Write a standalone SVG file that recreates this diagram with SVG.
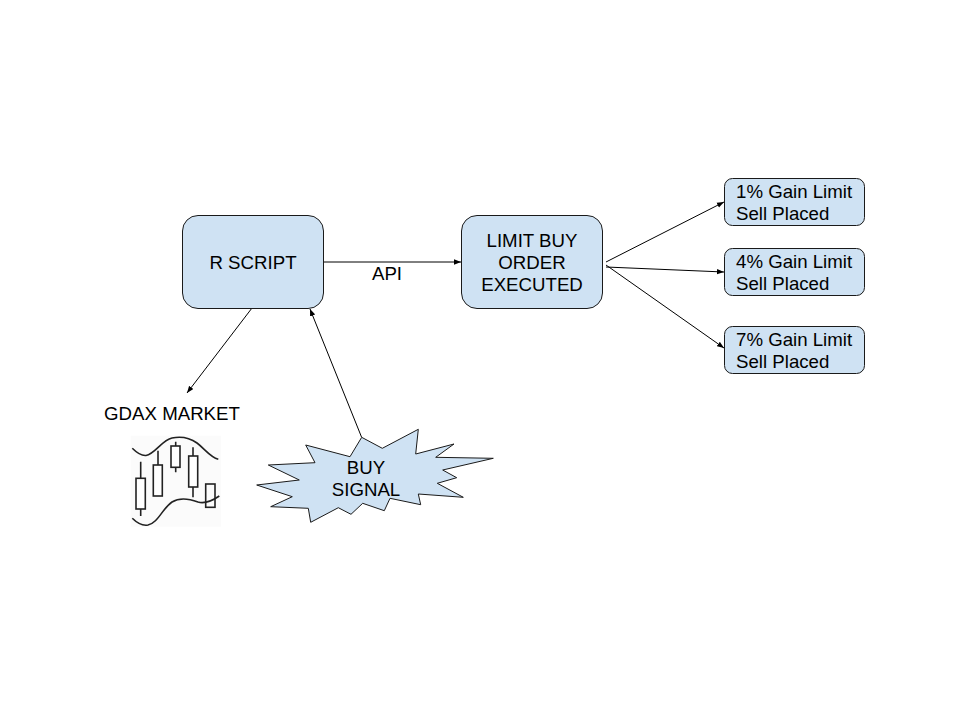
<svg xmlns="http://www.w3.org/2000/svg" width="960" height="720" viewBox="0 0 960 720">
<style>
.b{fill:#cfe2f3;stroke:#1a1a1a;stroke-width:1}
text{font-family:"Liberation Sans",Arial,sans-serif;font-size:18.67px;fill:#000}
.m{text-anchor:middle}
.c{stroke:#000;stroke-width:1;fill:none;marker-end:url(#a)}
.k{fill:none;stroke:#222;stroke-width:1.6}
.r{fill:#fff;stroke:#222;stroke-width:1.6}
</style>
<defs><marker id="a" markerUnits="userSpaceOnUse" markerWidth="8" markerHeight="6" refX="7" refY="3" orient="auto"><path d="M0 0.300L7 3L0 5.700Z" fill="#000"/></marker></defs>
<rect width="960" height="720" fill="#fff"/>
<g id="connectors">
<line class="c" x1="324" y1="262" x2="461" y2="262"/>
<line class="c" x1="252" y1="308" x2="187" y2="393"/>
<line class="c" x1="361.500" y1="437" x2="310" y2="309"/>
<line class="c" x1="606" y1="262" x2="724" y2="202"/>
<line class="c" x1="606" y1="267" x2="724" y2="272"/>
<line class="c" x1="606" y1="265" x2="724" y2="348"/>
</g>
<g id="r-script"><rect class="b" x="182.500" y="215.500" width="141" height="93" rx="15.500"/><text class="m" x="253" y="269">R SCRIPT</text></g>
<g id="limit-buy"><rect class="b" x="461.500" y="215.500" width="141" height="93" rx="15.500"/><text class="m" x="532" y="247">LIMIT BUY</text><text class="m" x="532" y="269">ORDER</text><text class="m" x="532" y="291">EXECUTED</text></g>
<g id="gain1"><rect class="b" x="724.500" y="178.500" width="140" height="47" rx="8"/><text x="736" y="198">1% Gain Limit</text><text x="736" y="220">Sell Placed</text></g>
<g id="gain4"><rect class="b" x="724.500" y="248.500" width="140" height="47" rx="8"/><text x="736" y="268">4% Gain Limit</text><text x="736" y="290">Sell Placed</text></g>
<g id="gain7"><rect class="b" x="724.500" y="326.500" width="140" height="47" rx="8"/><text x="736" y="346">7% Gain Limit</text><text x="736" y="368">Sell Placed</text></g>
<g id="api"><text class="m" x="387" y="280">API</text></g>
<g id="gdax"><text class="m" x="172" y="420">GDAX MARKET</text>
<rect x="130.700" y="435.700" width="90.300" height="91" fill="#fbfbfb"/>
<path class="k" d="M132.300 448.300C137 453 141 456 146 455.500C155 454 162 440 172 438C182 436 190 438 197 443C205 449 210 457 218.300 459.300"/>
<path class="k" d="M132.300 518.300C137 523 142 526 148 525C158 523 162 509 172 502C180 497 190 499 198 502C205 504 212 501 219.300 496"/>
<path class="k" d="M140.700 461.700V516M158 450.700V465M175.700 441.700V472.300M193 447.300V497.300"/>
<rect class="r" x="136" y="478.300" width="9.300" height="30.700"/>
<rect class="r" x="153.300" y="465" width="9" height="31"/>
<rect class="r" x="171" y="446" width="9" height="21.300"/>
<rect class="r" x="188.700" y="456" width="9" height="31"/>
<rect class="k" x="205.700" y="484" width="9.300" height="23.300"/>
</g>
<g id="buy-signal"><path class="b" d="M361.700 437.300L382.300 448.300L418.300 429.300L415.700 454L454 444L435.700 457.300L493.300 458.300L442.700 470L456.700 477.700L437.300 483.300L463.300 497.300L418.300 494L420.700 504.700L390 498.300L384.300 510.700L362.700 503.300L351 514.300L338.300 507.700L310.700 522.300L308.300 508.300L270.700 506.700L292.300 496.700L256.700 485L299.300 480L268.300 465L315 462.700L305.700 445L350 456.700Z"/>
<text class="m" x="366" y="474">BUY</text><text class="m" x="366" y="496">SIGNAL</text></g>
</svg>
